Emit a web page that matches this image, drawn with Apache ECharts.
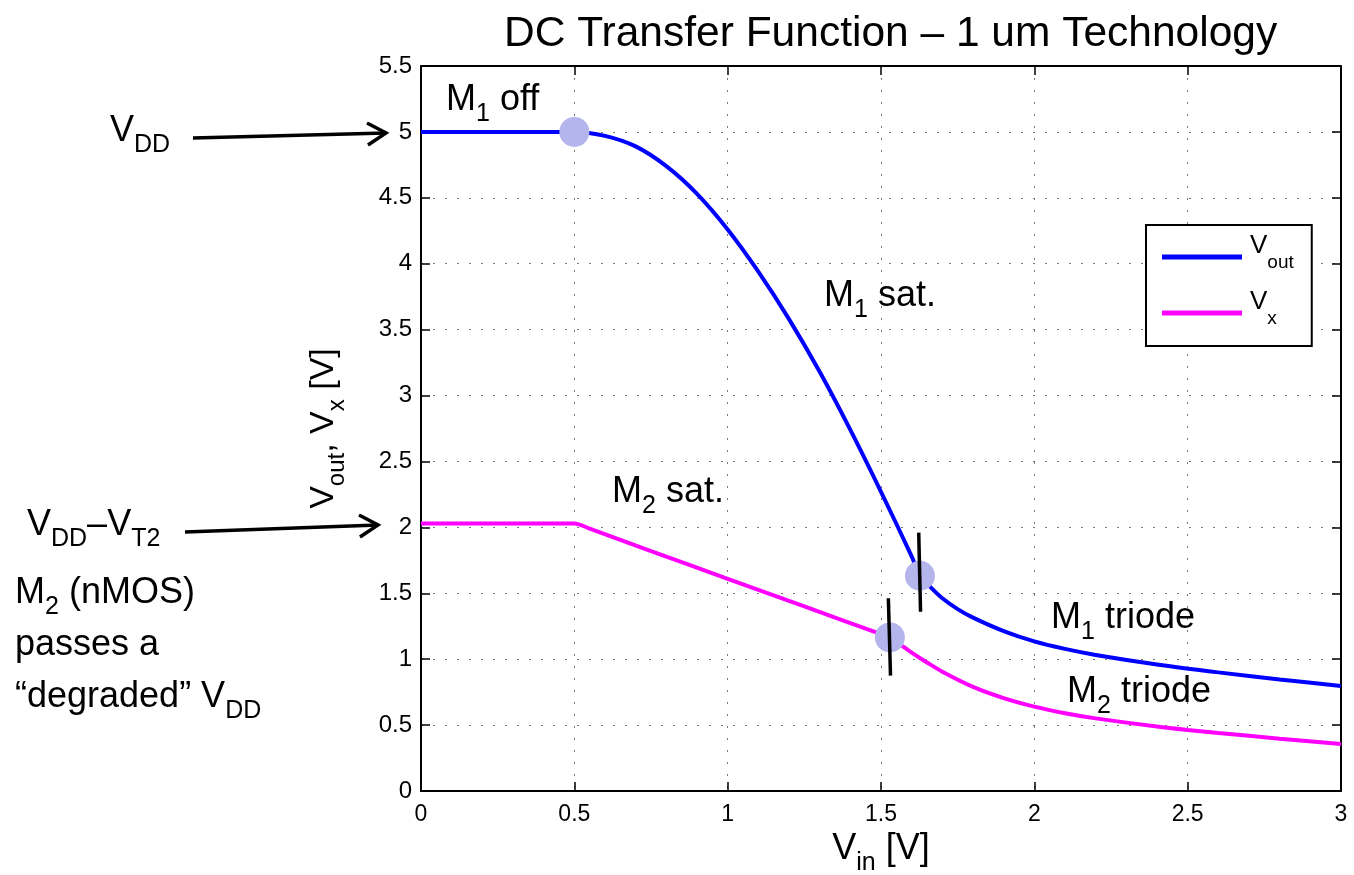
<!DOCTYPE html>
<html>
<head>
<meta charset="utf-8">
<script src="https://cdn.jsdelivr.net/npm/echarts@6/dist/echarts.min.js"></script>
<style>
  html, body { margin: 0; padding: 0; background: #fff; }
  #chart { width: 1354px; height: 875px; }
</style>
</head>
<body>
<div id="chart"></div>
<script>
// Vout curve (blue)
const vinOut = [0, 0.5, 0.6, 0.7, 0.8, 0.9, 1.0, 1.1, 1.2, 1.3, 1.4, 1.5, 1.6, 1.627, 1.66, 1.7, 1.75, 1.8, 1.9, 2.0, 2.1, 2.2, 2.4, 2.6, 2.8, 3.0];
const vout   = [5, 5, 4.97, 4.89, 4.74, 4.53, 4.26, 3.94, 3.58, 3.18, 2.74, 2.27, 1.78, 1.633, 1.55, 1.462, 1.38, 1.315, 1.213, 1.135, 1.078, 1.032, 0.96, 0.90, 0.846, 0.797];

// Vx curve (magenta)
const vinX = [0, 0.5, 0.55, 0.75, 1.0, 1.25, 1.5, 1.529, 1.56, 1.6, 1.65, 1.7, 1.8, 1.9, 2.0, 2.1, 2.2, 2.4, 2.5, 2.6, 2.8, 3.0];
const vx   = [2.03, 2.03, 1.99, 1.82, 1.61, 1.40, 1.19, 1.165, 1.115, 1.05, 0.975, 0.905, 0.79, 0.705, 0.64, 0.59, 0.551, 0.489, 0.463, 0.44, 0.397, 0.356];

// region boundary dots
const dotX = [0.5, 1.627, 1.529];
const dotY = [5, 1.633, 1.165];

// short black boundary ticks
const tickAX = [1.623, 1.629];
const tickAY = [1.96, 1.36];
const tickBX = [1.524, 1.531];
const tickBY = [1.462, 0.875];

const xTicks = [0, 0.5, 1, 1.5, 2, 2.5, 3];
const yTicks = [0, 0.5, 1, 1.5, 2, 2.5, 3, 3.5, 4, 4.5, 5, 5.5];

const pairs = (xs, ys) => xs.map((x, i) => [x, ys[i]]);

const FONT = 'Liberation Sans';

// subscript styles
const subRich = (size, subSize, pad) => ({
  m: { fontSize: size, fontFamily: FONT, color: '#000' },
  s: { fontSize: subSize, fontFamily: FONT, color: '#000', padding: [pad, 0, 0, 0] }
});
const bigRich = subRich(36, 25, 28);

function label(text, x, y) {
  return {
    type: 'text', x: x, y: y, z: 20,
    style: { text: text, rich: bigRich, verticalAlign: 'middle', align: 'left' }
  };
}
function arrow(x1, y1, x2, y2) {
  return [
    { type: 'line', z: 20, shape: { x1: x1, y1: y1, x2: x2, y2: y2 },
      style: { stroke: '#000', lineWidth: 3.5 } },
    { type: 'polyline', z: 20,
      shape: { points: [[x2 - 19, y2 - 10], [x2, y2], [x2 - 18, y2 + 12]] },
      style: { stroke: '#000', lineWidth: 3.5, fill: null } }
  ];
}

const gridDots = { show: true, lineStyle: { color: '#777', width: 1, type: [2, 10] } };
const blackLine = { show: true, onZero: false, lineStyle: { color: '#000', width: 2 } };
const tickIn = { show: true, inside: true, length: 9, lineStyle: { color: '#000', width: 1.5 } };

const option = {
  backgroundColor: '#fff',
  animation: false,
  title: {
    text: 'DC Transfer Function \u2013 1 um Technology',
    left: 499, top: 8,
    textStyle: { fontSize: 42.5, fontWeight: 'normal', fontFamily: FONT, color: '#000' }
  },
  grid: { left: 421, right: 13, top: 66, bottom: 84, outerBoundsMode: 'none', containLabel: false },
  legend: {
    orient: 'vertical',
    left: 1146, top: 225,
    data: ['Vout', 'Vx'],
    icon: 'rect',
    itemWidth: 80, itemHeight: 5,
    itemGap: 17,
    padding: [8, 18, 18, 16],
    borderColor: '#000', borderWidth: 2,
    backgroundColor: '#fff',
    formatter: function (name) {
      return name === 'Vout' ? '{m|V}{s|out}' : '{m|V}{s|x}';
    },
    textStyle: {
      rich: {
        m: { fontSize: 26, fontFamily: FONT, color: '#000', padding: [0, 0, 22, 3] },
        s: { fontSize: 19, fontFamily: FONT, color: '#000', padding: [20, 0, 9, 0] }
      }
    }
  },
  xAxis: [
    {
      type: 'value', min: 0, max: 3, interval: 0.5, position: 'bottom',
      axisLine: blackLine, axisTick: tickIn, splitLine: gridDots,
      axisLabel: { color: '#000', fontSize: 23, fontFamily: FONT, margin: 12,
        formatter: v => xTicks.includes(v) ? String(v) : '' },
      name: '{m|V}{s|in}{m| [V]}', nameLocation: 'middle', nameGap: 32,
      nameTextStyle: { rich: subRich(36, 25, 28) }
    },
    {
      type: 'value', min: 0, max: 3, interval: 0.5, position: 'top',
      axisLine: blackLine, axisTick: tickIn, splitLine: { show: false },
      axisLabel: { show: false }
    }
  ],
  yAxis: [
    {
      type: 'value', min: 0, max: 5.5, interval: 0.5, position: 'left',
      axisLine: blackLine, axisTick: tickIn, splitLine: gridDots,
      axisLabel: { color: '#000', fontSize: 24, fontFamily: FONT, margin: 9,
        formatter: v => yTicks.includes(v) ? String(v) : '' },
      name: '{m|V}{s|out}{m|, V}{s|x}{m| [V]}', nameLocation: 'middle', nameGap: 72, nameRotate: 90,
      nameTextStyle: { rich: subRich(34, 24, 26) }
    },
    {
      type: 'value', min: 0, max: 5.5, interval: 0.5, position: 'right',
      axisLine: blackLine, axisTick: tickIn, splitLine: { show: false },
      axisLabel: { show: false }
    }
  ],
  series: [
    {
      name: 'Vout', type: 'line', data: pairs(vinOut, vout),
      smooth: 0.3, showSymbol: false, symbol: 'none',
      itemStyle: { color: '#0000ff' }, lineStyle: { color: '#0000ff', width: 4 }
    },
    {
      name: 'Vx', type: 'line', data: pairs(vinX, vx),
      smooth: 0.3, showSymbol: false, symbol: 'none',
      itemStyle: { color: '#ff00ff' }, lineStyle: { color: '#ff00ff', width: 4 }
    },
    {
      name: 'dots', type: 'scatter', data: pairs(dotX, dotY),
      symbolSize: 30, itemStyle: { color: '#b3b5ec', opacity: 1 }, z: 5
    },
    {
      name: 'tickA', type: 'line', data: pairs(tickAX, tickAY), symbol: 'none',
      lineStyle: { color: '#000', width: 3.5 }, z: 6
    },
    {
      name: 'tickB', type: 'line', data: pairs(tickBX, tickBY), symbol: 'none',
      lineStyle: { color: '#000', width: 3.5 }, z: 6
    }
  ],
  graphic: [
    label('{m|V}{s|DD}', 110, 131),
    ...arrow(193, 138, 386, 133),
    label('{m|V}{s|DD}{m|\u2013V}{s|T2}', 27, 525),
    ...arrow(185, 532, 378, 525),
    label('{m|M}{s|2}{m| (nMOS)}', 15, 593),
    label('{m|passes a}', 15, 645),
    label('{m|\u201cdegraded\u201d V}{s|DD}', 15, 697),
    label('{m|M}{s|1}{m| off}', 446, 100),
    label('{m|M}{s|1}{m| sat.}', 824, 296),
    label('{m|M}{s|2}{m| sat.}', 612, 492),
    label('{m|M}{s|1}{m| triode}', 1051, 618),
    label('{m|M}{s|2}{m| triode}', 1067, 692)
  ]
};

const chart = echarts.init(document.getElementById('chart'));
chart.setOption(option);
</script>
</body>
</html>
